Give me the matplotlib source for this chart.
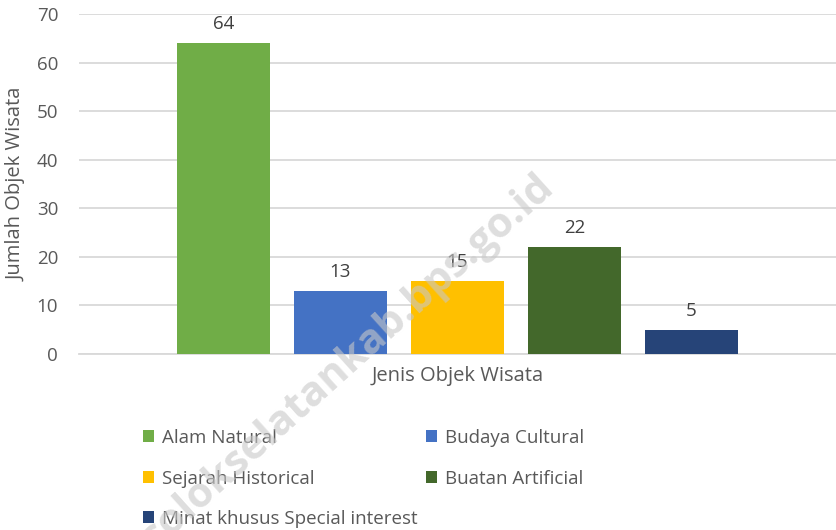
import matplotlib
matplotlib.use("Agg")
import matplotlib.pyplot as plt
import numpy as np

series = ["Alam Natural", "Budaya Cultural", "Sejarah Historical", "Buatan Artificial", "Minat khusus Special interest"]
values = [64, 13, 15, 22, 5]
colors = ["#70ad47", "#4472c4", "#ffc000", "#43682b", "#264478"]
yticks = [0, 10, 20, 30, 40, 50, 60, 70]

plt.rcParams['font.family'] = ['Open Sans', 'DejaVu Sans']

fig = plt.figure(figsize=(8.36, 5.30), dpi=100)
ax = fig.add_axes([79/836, 1-354/530, 1-79/836, 340/530])

n = len(values)
step = 0.1546
width = 0.123
xs = (np.arange(n) - (n - 1) / 2) * step
bars = []
for x, v, c, s in zip(xs, values, colors, series):
    b = ax.bar(x, v, width=width, color=c, label=s, zorder=3)
    bars.append(b)
    ax.annotate(str(v), (x, v), xytext=(0, 7), textcoords="offset points",
                ha="center", va="bottom", fontsize=13.5, color="#404040")

ax.set_xlim(-0.5, 0.5)
ax.set_ylim(0, 70)
ax.set_yticks(yticks)
ax.set_xticks([])
ax.tick_params(axis='y', length=0, pad=15, labelsize=13.5, labelcolor="#595959")
for sp in ["top", "right", "left"]:
    ax.spines[sp].set_visible(False)
ax.spines["bottom"].set_color("#d9d9d9")
ax.spines["bottom"].set_linewidth(1.3)
ax.grid(axis='y', color="#d9d9d9", linewidth=1.3, zorder=0)
ax.set_axisbelow(True)

ax.set_xlabel("Jenis Objek Wisata", fontsize=14.5, color="#595959", labelpad=9)
ax.set_ylabel("Jumlah Objek Wisata", fontsize=14.5, color="#595959")
ax.yaxis.set_label_coords(-0.069, 0.5)

order = [0, 2, 4, 1, 3]
leg = fig.legend([bars[i] for i in order], [series[i] for i in order],
                 ncol=2, loc="upper left", bbox_to_anchor=(128/836, 1-414/530),
                 frameon=False, fontsize=13.5, handlelength=0.6, handleheight=0.6,
                 handletextpad=0.4, labelspacing=1.2, columnspacing=0.45,
                 borderpad=0.3)
for t in leg.get_texts():
    t.set_color("#595959")

fig.text(348/836, 1-362/530, "solokselatankab.bps.go.id", rotation=42,
         fontsize=30, fontweight="bold", color="#c8c8c8", alpha=0.6,
         ha="center", va="center", zorder=10)

fig.savefig("out.png", dpi=100)
